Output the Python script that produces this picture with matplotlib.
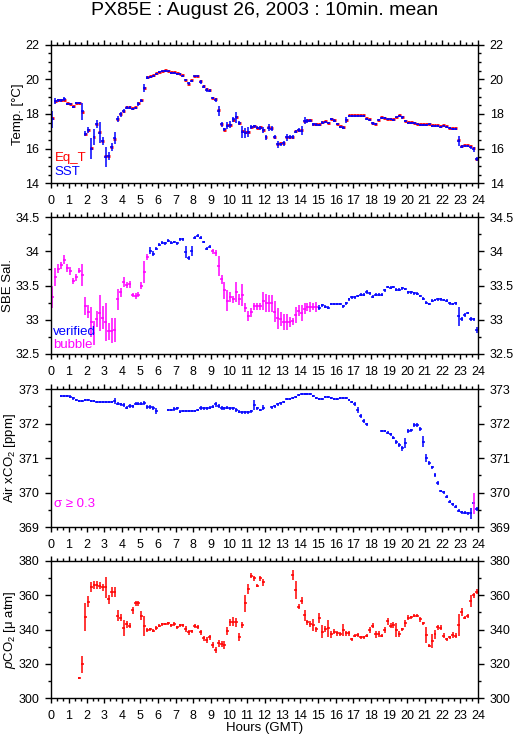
import numpy as np
import matplotlib
matplotlib.use("Agg")
import matplotlib.pyplot as plt
from matplotlib.ticker import MultipleLocator, FuncFormatter

nan = np.nan

# 10-minute means, 6 values per hour (rows = hours 0..23)
sst = [17.69, 18.75, 18.80, 18.80, 18.85, 18.58,
       18.58, 18.42, 18.63, 18.65, 18.15, 16.87,
       17.08, 16.00, 16.67, 17.44, 16.92, 16.44,
       15.54, 15.58, 16.08, 16.60, 17.73, 17.98,
       18.17, 18.37, 18.37, 18.29, 18.35, 18.58,
       18.77, 19.50, 20.10, 20.13, 20.20, 20.30,
       20.40, 20.46, 20.48, 20.46, 20.38, 20.38,
       20.30, 20.29, 20.20, 19.96, 19.77, 19.90,
       20.17, 20.17, 19.87, 19.58, 19.38, 19.35,
       18.92, 18.80, 18.19, 17.40, 17.12, 17.33,
       17.37, 17.69, 17.80, 17.48, 16.98, 16.92,
       16.96, 17.23, 17.29, 17.21, 17.21, 17.08,
       16.65, 17.20, 17.15, 16.65, 16.25, 16.25,
       16.30, 16.65, 16.65, 16.65, 16.98, 17.08,
       17.04, 17.60, 17.60, 17.62, 17.40, 17.38,
       17.37, 17.50, 17.54, 17.48, 17.69, 17.62,
       17.42, 17.25, 17.21, 17.65, 17.90, 17.88,
       17.88, 17.88, 17.88, 17.88, 17.73, 17.65,
       17.46, 17.40, 17.65, 17.77, 17.75, 17.69,
       17.69, 17.65, 17.80, 17.90, 17.80, 17.60,
       17.48, 17.48, 17.48, 17.40, 17.38, 17.38,
       17.38, 17.40, 17.31, 17.31, 17.31, 17.27,
       17.33, 17.27, 17.19, 17.15, 17.15, 16.44,
       16.12, 16.17, 16.17, 16.08, 15.96, 15.40]
sst_err = [0.48, 0.15, 0.08, 0.08, 0.12, 0.08,
           0.08, 0.06, 0.06, 0.06, 0.50, 0.12,
           0.16, 0.62, 0.48, 0.22, 0.60, 0.24,
           0.58, 0.24, 0.24, 0.36, 0.18, 0.15,
           0.10, 0.08, 0.08, 0.06, 0.06, 0.10,
           0.08, 0.22, 0.10, 0.08, 0.06, 0.06,
           0.06, 0.05, 0.05, 0.05, 0.06, 0.06,
           0.05, 0.05, 0.05, 0.08, 0.10, 0.06,
           0.04, 0.04, 0.12, 0.08, 0.10, 0.10,
           0.08, 0.10, 0.29, 0.15, 0.10, 0.20,
           0.20, 0.15, 0.34, 0.12, 0.34, 0.30,
           0.30, 0.12, 0.10, 0.10, 0.12, 0.15,
           0.15, 0.20, 0.15, 0.12, 0.20, 0.10,
           0.12, 0.20, 0.12, 0.12, 0.10, 0.10,
           0.25, 0.20, 0.12, 0.10, 0.10, 0.10,
           0.08, 0.08, 0.06, 0.08, 0.06, 0.08,
           0.06, 0.06, 0.08, 0.15, 0.06, 0.05,
           0.05, 0.05, 0.05, 0.05, 0.05, 0.06,
           0.08, 0.06, 0.08, 0.06, 0.05, 0.05,
           0.05, 0.05, 0.05, 0.06, 0.06, 0.06,
           0.05, 0.05, 0.05, 0.05, 0.05, 0.05,
           0.05, 0.05, 0.05, 0.05, 0.05, 0.05,
           0.05, 0.05, 0.05, 0.05, 0.05, 0.30,
           0.08, 0.06, 0.06, 0.08, 0.15, 0.10]
eq_t = [17.75, 18.75, 18.82, 18.78, 18.80, 18.62,
        18.58, 18.45, 18.65, 18.65, 18.12, 16.85,
        17.05, 16.05, 16.65, 17.42, 16.95, 16.45,
        15.55, 15.60, 16.12, 16.55, 17.72, 18.00,
        18.20, 18.38, 18.38, 18.32, 18.38, 18.62,
        18.80, 19.52, 20.12, 20.18, 20.25, 20.35,
        20.45, 20.50, 20.52, 20.50, 20.45, 20.42,
        20.35, 20.32, 20.25, 19.98, 19.75, 19.95,
        20.20, 20.20, 19.90, 19.62, 19.42, 19.38,
        18.95, 18.85, 18.22, 17.45, 17.10, 17.35,
        17.38, 17.68, 17.82, 17.50, 17.00, 16.95,
        16.98, 17.25, 17.32, 17.22, 17.25, 17.10,
        16.65, 17.25, 17.18, 16.68, 16.28, 16.30,
        16.32, 16.68, 16.70, 16.68, 17.00, 17.10,
        17.08, 17.62, 17.65, 17.65, 17.42, 17.40,
        17.40, 17.55, 17.58, 17.50, 17.72, 17.66,
        17.45, 17.28, 17.25, 17.68, 17.95, 17.92,
        17.92, 17.92, 17.92, 17.92, 17.78, 17.70,
        17.50, 17.45, 17.68, 17.80, 17.78, 17.72,
        17.72, 17.70, 17.85, 17.95, 17.85, 17.62,
        17.52, 17.52, 17.50, 17.45, 17.42, 17.42,
        17.42, 17.45, 17.35, 17.35, 17.35, 17.32,
        17.38, 17.32, 17.22, 17.18, 17.20, 16.48,
        16.15, 16.22, 16.22, 16.15, 16.02, 15.42]

sal = [33.34, 33.63, 33.75, 33.80, 33.88, 33.76,
       33.72, 33.57, 33.62, 33.72, 33.66, 33.20,
       33.12, 32.97, 32.81, 33.01, 33.10, 33.03,
       32.97, 32.83, 32.84, 32.85, 33.30, 33.40,
       33.55, 33.51, 33.52, 33.36, 33.35, 33.37,
       33.50, 33.70, 33.92, 34.01, 33.97, 34.04,
       34.10, 34.13, 34.12, 34.16, 34.13, 34.14,
       34.12, 34.18, 34.18, 33.99, 33.91, 34.01,
       34.20, 34.23, 34.20, 34.14, 34.04, 34.07,
       34.00, 33.98, 33.79, 33.59, 33.43, 33.28,
       33.33, 33.30, 33.41, 33.30, 33.36, 33.18,
       33.06, 33.11, 33.20, 33.20, 33.20, 33.27,
       33.25, 33.24, 33.24, 33.12, 33.02, 33.01,
       32.97, 32.97, 32.97, 32.98, 33.07, 33.13,
       33.10, 33.16, 33.19, 33.19, 33.19, 33.19,
       33.18, 33.21, 33.19, 33.18, 33.23, 33.23,
       33.23, 33.23, 33.20, 33.24, 33.30, 33.33,
       33.33, 33.35, 33.37, 33.37, 33.41, 33.39,
       33.34, 33.37, 33.37, 33.37, 33.43, 33.48,
       33.47, 33.48, 33.44, 33.44, 33.46, 33.45,
       33.40, 33.40, 33.39, 33.38, 33.35, 33.31,
       33.25, 33.23, 33.28, 33.29, 33.30, 33.30,
       33.29, 33.28, 33.24, 33.23, 33.24, 33.05,
       33.01, 33.07, 33.10, 33.01, 33.01, 32.85]
sal_err = [0.16, 0.13, 0.06, 0.05, 0.07, 0.06,
           0.06, 0.04, 0.05, 0.04, 0.16, 0.13,
           0.10, 0.22, 0.18, 0.12, 0.26, 0.17,
           0.28, 0.13, 0.18, 0.18, 0.15, 0.06,
           0.07, 0.05, 0.05, 0.03, 0.04, 0.04,
           0.05, 0.16, 0.05, 0.05, 0.03, 0.02,
           0.02, 0.02, 0.02, 0.02, 0.02, 0.02,
           0.02, 0.02, 0.02, 0.085, 0.03, 0.07,
           0.02, 0.02, 0.02, 0.02, 0.02, 0.02,
           0.03, 0.04, 0.15, 0.06, 0.13, 0.15,
           0.07, 0.05, 0.15, 0.08, 0.16, 0.06,
           0.07, 0.07, 0.05, 0.05, 0.05, 0.13,
           0.13, 0.12, 0.12, 0.15, 0.15, 0.10,
           0.12, 0.12, 0.07, 0.05, 0.12, 0.08,
           0.12, 0.08, 0.06, 0.07, 0.05, 0.07,
           0.03, 0.02, 0.02, 0.02, 0.02, 0.02,
           0.02, 0.02, 0.02, 0.02, 0.02, 0.02,
           0.02, 0.02, 0.02, 0.02, 0.03, 0.02,
           0.02, 0.02, 0.02, 0.02, 0.02, 0.02,
           0.02, 0.02, 0.02, 0.02, 0.02, 0.02,
           0.02, 0.02, 0.02, 0.02, 0.02, 0.02,
           0.02, 0.02, 0.02, 0.02, 0.02, 0.02,
           0.02, 0.02, 0.02, 0.02, 0.02, 0.14,
           0.03, 0.03, 0.02, 0.03, 0.02, 0.04]
bubble_periods = [(0.0, 5.5), (9.0, 15.0)]

air = [nan, nan, nan, 372.80, 372.80, 372.80,
       372.78, 372.73, 372.69, 372.65, 372.65, 372.67,
       372.67, 372.65, 372.64, 372.63, 372.62, 372.62,
       372.62, 372.62, 372.62, 372.65, 372.57, 372.56,
       372.54, 372.46, 372.52, 372.50, 372.58, 372.57,
       372.57, 372.60, 372.48, 372.47, 372.45, 372.37,
       nan, nan, nan, 372.39, 372.39, 372.41,
       372.44, 372.34, 372.37, 372.36, 372.36, 372.36,
       372.37, 372.39, 372.46, 372.44, 372.44, 372.46,
       372.49, 372.56, 372.50, 372.46, 372.44, 372.46,
       372.44, 372.44, 372.39, 372.34, 372.33, 372.33,
       372.33, 372.36, 372.54, 372.44, 372.39, 372.46,
       nan, nan, 372.47, 372.50, 372.56, 372.59,
       372.63, 372.70, 372.71, 372.73, 372.78, 372.83,
       372.85, 372.85, 372.85, 372.85, 372.80, 372.75,
       372.71, 372.71, 372.76, 372.76, 372.73, 372.71,
       372.71, 372.75, 372.75, 372.73, 372.68, 372.63,
       372.56, 372.39, 372.22, 372.07, 371.98, nan,
       nan, nan, nan, 371.79, 371.79, 371.74,
       371.69, 371.59, 371.46, 371.38, 371.28, 371.43,
       371.79, 371.80, 371.96, 371.96, 371.84, 371.48,
       371.01, 370.85, 370.73, 370.51, 370.27, 370.05,
       370.01, 369.89, 369.74, 369.67, 369.60, 369.48,
       369.43, 369.42, 369.41, 369.41, 369.69, 369.53]
air_err = [nan, nan, nan, 0.04, 0.04, 0.04,
           0.04, 0.04, 0.03, 0.03, 0.03, 0.03,
           0.03, 0.03, 0.03, 0.03, 0.03, 0.03,
           0.03, 0.03, 0.03, 0.08, 0.04, 0.04,
           0.05, 0.05, 0.06, 0.04, 0.04, 0.04,
           0.04, 0.05, 0.06, 0.06, 0.06, 0.08,
           nan, nan, nan, 0.04, 0.04, 0.06,
           0.04, 0.04, 0.03, 0.03, 0.03, 0.03,
           0.03, 0.03, 0.06, 0.04, 0.04, 0.04,
           0.04, 0.07, 0.06, 0.06, 0.05, 0.05,
           0.05, 0.05, 0.05, 0.04, 0.04, 0.04,
           0.04, 0.04, 0.15, 0.04, 0.04, 0.07,
           nan, nan, 0.04, 0.04, 0.04, 0.04,
           0.03, 0.03, 0.03, 0.03, 0.03, 0.03,
           0.03, 0.03, 0.03, 0.03, 0.03, 0.03,
           0.03, 0.03, 0.03, 0.03, 0.03, 0.03,
           0.03, 0.03, 0.03, 0.03, 0.03, 0.03,
           0.05, 0.08, 0.06, 0.05, 0.05, nan,
           nan, nan, nan, 0.03, 0.03, 0.04,
           0.04, 0.05, 0.06, 0.05, 0.06, 0.15,
           0.05, 0.05, 0.06, 0.06, 0.06, 0.17,
           0.12, 0.06, 0.04, 0.06, 0.06, 0.04,
           0.04, 0.05, 0.05, 0.04, 0.04, 0.05,
           0.04, 0.04, 0.04, 0.16, 0.31, 0.05]

pco2 = [nan, nan, nan, nan, nan, nan,
        nan, nan, nan, 311.6, 319.8, 347.1,
        356.2, 364.5, 365.9, 365.9, 365.5, 364.5,
        364.5, 357.5, 362.0, 362.0, 348.0, 346.9,
        341.0, 343.0, 342.2, 351.3, 355.2, 355.2,
        348.0, 342.0, 339.7, 340.1, 339.3, 341.0,
        342.2, 343.0, 343.2, 343.6, 342.4, 343.2,
        341.3, 342.4, 342.4, 340.3, 338.4, 338.9,
        342.0, 341.5, 338.4, 334.9, 333.9, 335.4,
        331.0, 328.1, 332.0, 331.6, 331.0, 339.1,
        344.2, 344.6, 344.2, 335.6, 342.6, 355.2,
        363.5, 371.3, 369.7, 365.5, 369.7, 367.4,
        nan, nan, nan, nan, nan, nan,
        nan, nan, nan, 371.7, 363.0, 353.3,
        356.8, 348.4, 344.2, 343.2, 342.6, 340.1,
        346.5, 338.7, 340.3, 340.7, 337.2, 338.7,
        337.8, 337.4, 339.7, 337.8, 337.8, 334.3,
        336.4, 336.8, 335.4, 335.4, 336.4, 339.7,
        342.2, 337.2, 337.4, 336.4, 339.7, 344.9,
        342.2, 342.6, 339.7, 337.4, 340.1, 343.6,
        346.9, 347.1, 348.0, 348.0, 345.9, 343.6,
        336.8, 330.6, 333.3, 337.2, 341.3, 341.0,
        336.4, 334.3, 335.4, 336.8, 336.4, 342.6,
        350.0, 346.9, 347.8, 356.6, 360.0, 362.0]
pco2_err = [nan, nan, nan, nan, nan, nan,
            nan, nan, nan, 0.5, 4.8, 8.2,
            3.4, 2.9, 2.5, 2.5, 2.0, 2.0,
            6.3, 2.5, 2.9, 2.9, 3.2, 2.0,
            4.5, 2.0, 1.5, 2.0, 1.5, 1.5,
            2.6, 5.8, 1.0, 1.0, 1.0, 1.0,
            1.0, 1.0, 0.8, 0.8, 1.0, 1.0,
            1.0, 1.0, 1.0, 1.5, 1.5, 1.0,
            1.0, 1.0, 1.5, 1.5, 1.5, 1.5,
            1.5, 1.5, 2.0, 2.0, 2.6, 2.4,
            2.0, 2.5, 2.5, 2.4, 1.5, 4.8,
            3.0, 1.5, 1.5, 1.0, 1.5, 2.0,
            nan, nan, nan, nan, nan, nan,
            nan, nan, nan, 2.9, 5.3, 1.5,
            2.0, 3.2, 1.5, 1.5, 3.4, 1.5,
            2.9, 3.9, 2.0, 4.8, 2.0, 1.5,
            1.5, 1.0, 3.6, 1.5, 1.5, 1.0,
            1.0, 1.0, 1.0, 1.0, 1.0, 1.5,
            1.5, 2.0, 1.5, 1.0, 1.5, 2.0,
            1.5, 1.5, 3.9, 1.5, 1.0, 2.0,
            1.5, 1.0, 1.0, 1.0, 1.5, 1.0,
            4.4, 0.7, 3.9, 2.5, 1.5, 1.5,
            1.5, 1.0, 1.0, 1.5, 1.5, 6.3,
            2.4, 1.0, 1.0, 3.4, 1.5, 1.5]

hours = (np.arange(144) + 0.5) / 6.0
half = 1.0 / 12.0

RED, BLUE, MAG = '#ff0000', '#0000ff', '#ff00ff'

plt.rcParams['font.family'] = ['Liberation Sans', 'DejaVu Sans']
plt.rcParams['font.size'] = 9.5
plt.rcParams['mathtext.fontset'] = 'custom'
plt.rcParams['mathtext.rm'] = 'Liberation Sans'
plt.rcParams['mathtext.it'] = 'Liberation Sans:italic'

fig = plt.figure(figsize=(5.15, 7.39), dpi=100)

W, H = 515.0, 739.0
boxes = [(44.7, 183.3), (217.3, 354.0), (389.0, 527.3), (560.7, 698.3)]
axes = []
for top, bot in boxes:
    ax = fig.add_axes([51 / W, 1 - bot / H, 427 / W, (bot - top) / H])
    axes.append(ax)


def bars(ax, y, e, color, yerr=True, lw=1.1):
    y = np.asarray(y, float)
    e = np.asarray(e, float)
    ok = ~np.isnan(y)
    ax.errorbar(hours[ok], y[ok], xerr=half, yerr=e[ok] if yerr else None,
                fmt='none', ecolor=color, elinewidth=lw, capsize=0)


def style(ax, ylim, major, minor):
    ax.set_xlim(0, 24)
    ax.set_ylim(*ylim)
    ax.xaxis.set_major_locator(MultipleLocator(1))
    ax.xaxis.set_minor_locator(MultipleLocator(1 / 3))
    ax.yaxis.set_major_locator(MultipleLocator(major))
    ax.yaxis.set_minor_locator(MultipleLocator(minor))
    ax.yaxis.set_major_formatter(FuncFormatter(lambda v, p: '%g' % v))
    ax.tick_params(which='both', direction='out', top=True, right=True,
                   labelright=True, width=1.0, colors='black')
    ax.tick_params(which='major', length=4.5, pad=4, labelsize=9)
    ax.tick_params(which='minor', length=2.2)
    ax.tick_params(axis='x', which='major', length=3.5, pad=5)
    for s in ax.spines.values():
        s.set_linewidth(1.0)


def ylabel(ax, text, xpix):
    # xpix: horizontal centre of the rotated label in figure pixels
    ax.set_ylabel(text, va='center')
    ax.yaxis.set_label_coords((xpix - 51) / 427, 0.5)


# panel 1: temperature
ax = axes[0]
bars(ax, eq_t, sst_err, RED, yerr=False, lw=2.0)
bars(ax, sst, sst_err, BLUE)
style(ax, (14, 22), 2, 0.5)
ylabel(ax, 'Temp. [°C]', 18)
ax.text(0.008, 0.183, 'Eq_T', color=RED, transform=ax.transAxes, va='center')
ax.text(0.008, 0.082, 'SST', color=BLUE, transform=ax.transAxes, va='center')

# panel 2: salinity
ax = axes[1]
sal_a = np.asarray(sal)
sal_e = np.asarray(sal_err)
is_bub = np.zeros(144, bool)
for a, b in bubble_periods:
    is_bub |= (hours > a) & (hours < b)
bars(ax, np.where(is_bub, nan, sal_a), sal_e, BLUE)
bars(ax, np.where(is_bub, sal_a, nan), sal_e, MAG)
style(ax, (32.5, 34.5), 0.5, 0.25)
ylabel(ax, 'SBE Sal.', 8)
ax.text(0.005, 0.16, 'verified', color=BLUE, transform=ax.transAxes, va='center')
ax.text(0.005, 0.066, 'bubble', color=MAG, transform=ax.transAxes, va='center')

# panel 3: air xCO2
ax = axes[2]
air_a = np.asarray(air)
air_e = np.asarray(air_err)
big = np.nan_to_num(air_e) >= 0.3
bars(ax, air_a, np.where(big, 0.0, air_e), BLUE)
ok = big & ~np.isnan(air_a)
ax.errorbar(hours[ok], air_a[ok], yerr=air_e[ok], fmt='none',
            ecolor=MAG, elinewidth=1.1, capsize=0)
style(ax, (369, 373), 1, 0.5)
ylabel(ax, 'Air xCO$_2$ [ppm]', 10.5)
ax.text(0.008, 0.168, 'σ ≥ 0.3', color=MAG, transform=ax.transAxes, va='center')

# panel 4: pCO2
ax = axes[3]
bars(ax, pco2, pco2_err, RED)
style(ax, (300, 380), 20, 10)
ylabel(ax, '$\\it{p}$CO$_2$ [μ atm]', 10.5)

cx = 264.5 / W
fig.text(cx, 1 - 10.5 / H, 'PX85E : August 26, 2003 : 10min. mean',
         ha='center', va='center', fontsize=14)
fig.text(cx, 1 - 728 / H, 'Hours (GMT)', ha='center', va='center', fontsize=9.5)

fig.savefig('out.png', dpi=100)
